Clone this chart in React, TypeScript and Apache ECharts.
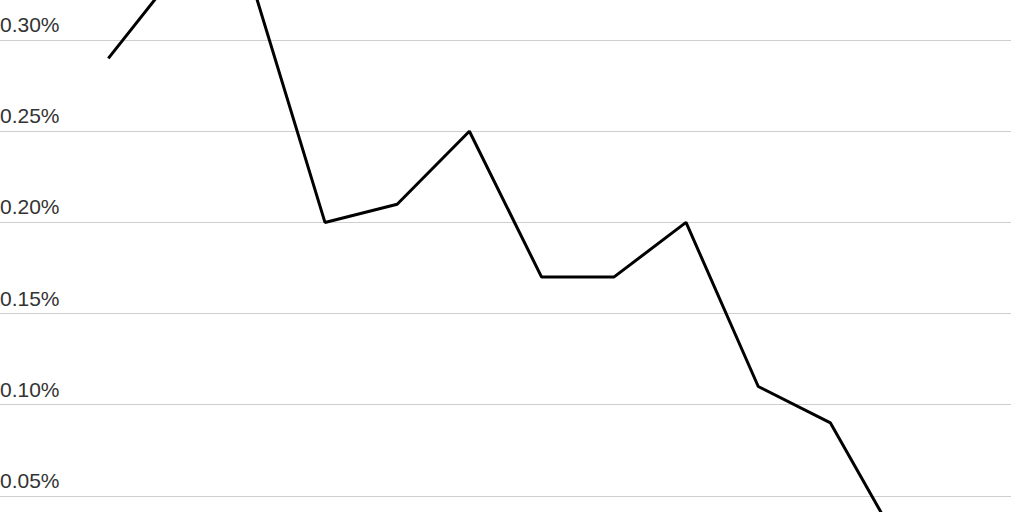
import * as echarts from "echarts";
import { useEffect, useRef } from "react";

// Periods along the x axis (the axis itself is cropped out of view).
const PERIODS = [
  "2010", "2011", "2012", "2013", "2014", "2015", "2016",
  "2017", "2018", "2019", "2020", "2021", "2022", "2023",
];

// Rate in percent; first and last periods have no value.
const RATE = [
  null, 0.29, 0.34, 0.33, 0.2, 0.21, 0.25, 0.17, 0.17, 0.2, 0.11, 0.09, 0.02, null,
];

const Y_MIN = 0;
const Y_MAX = 0.35;
const Y_STEP = 0.05;

const INK = "#000000";
const MUTED = "#333333";
const LINE = "#cfcfcf";

export default function App() {
  const ref = useRef<HTMLDivElement>(null);

  useEffect(() => {
    const el = ref.current;
    if (!el) return;
    const chart = echarts.init(el, undefined, { renderer: "svg" });
    chart.setOption({
      animation: false,
      grid: {
        left: 0,
        right: 13,
        top: 0,
        bottom: 0,
        containLabel: false,
        outerBoundsMode: "none",
      },
      xAxis: {
        type: "category",
        data: PERIODS,
        boundaryGap: true,
        axisLine: { show: false },
        axisTick: { show: false },
        axisLabel: { show: false },
        splitLine: { show: false },
      },
      yAxis: {
        type: "value",
        min: Y_MIN,
        max: Y_MAX,
        interval: Y_STEP,
        axisLine: { show: false },
        axisTick: { show: false },
        splitLine: { lineStyle: { color: LINE, width: 1.2 } },
        axisLabel: {
          inside: true,
          margin: 0,
          showMinLabel: false,
          showMaxLabel: false,
          verticalAlign: "bottom",
          padding: [0, 0, 5, 0],
          color: MUTED,
          fontSize: 21,
          fontFamily: "Liberation Sans, Arial, sans-serif",
          formatter: (v: number) => `${v.toFixed(2)}%`,
        },
      },
      series: [
        {
          type: "line",
          data: RATE,
          symbol: "none",
          connectNulls: false,
          lineStyle: { color: INK, width: 3 },
        },
      ],
    });
    return () => chart.dispose();
  }, []);

  return (
    <div
      style={{
        position: "fixed",
        left: 0,
        top: 0,
        width: 1024,
        height: 512,
        overflow: "hidden",
        background: "#ffffff",
      }}
    >
      <div
        ref={ref}
        style={{ position: "absolute", left: 0, top: -51, width: 1024, height: 638 }}
      />
    </div>
  );
}
